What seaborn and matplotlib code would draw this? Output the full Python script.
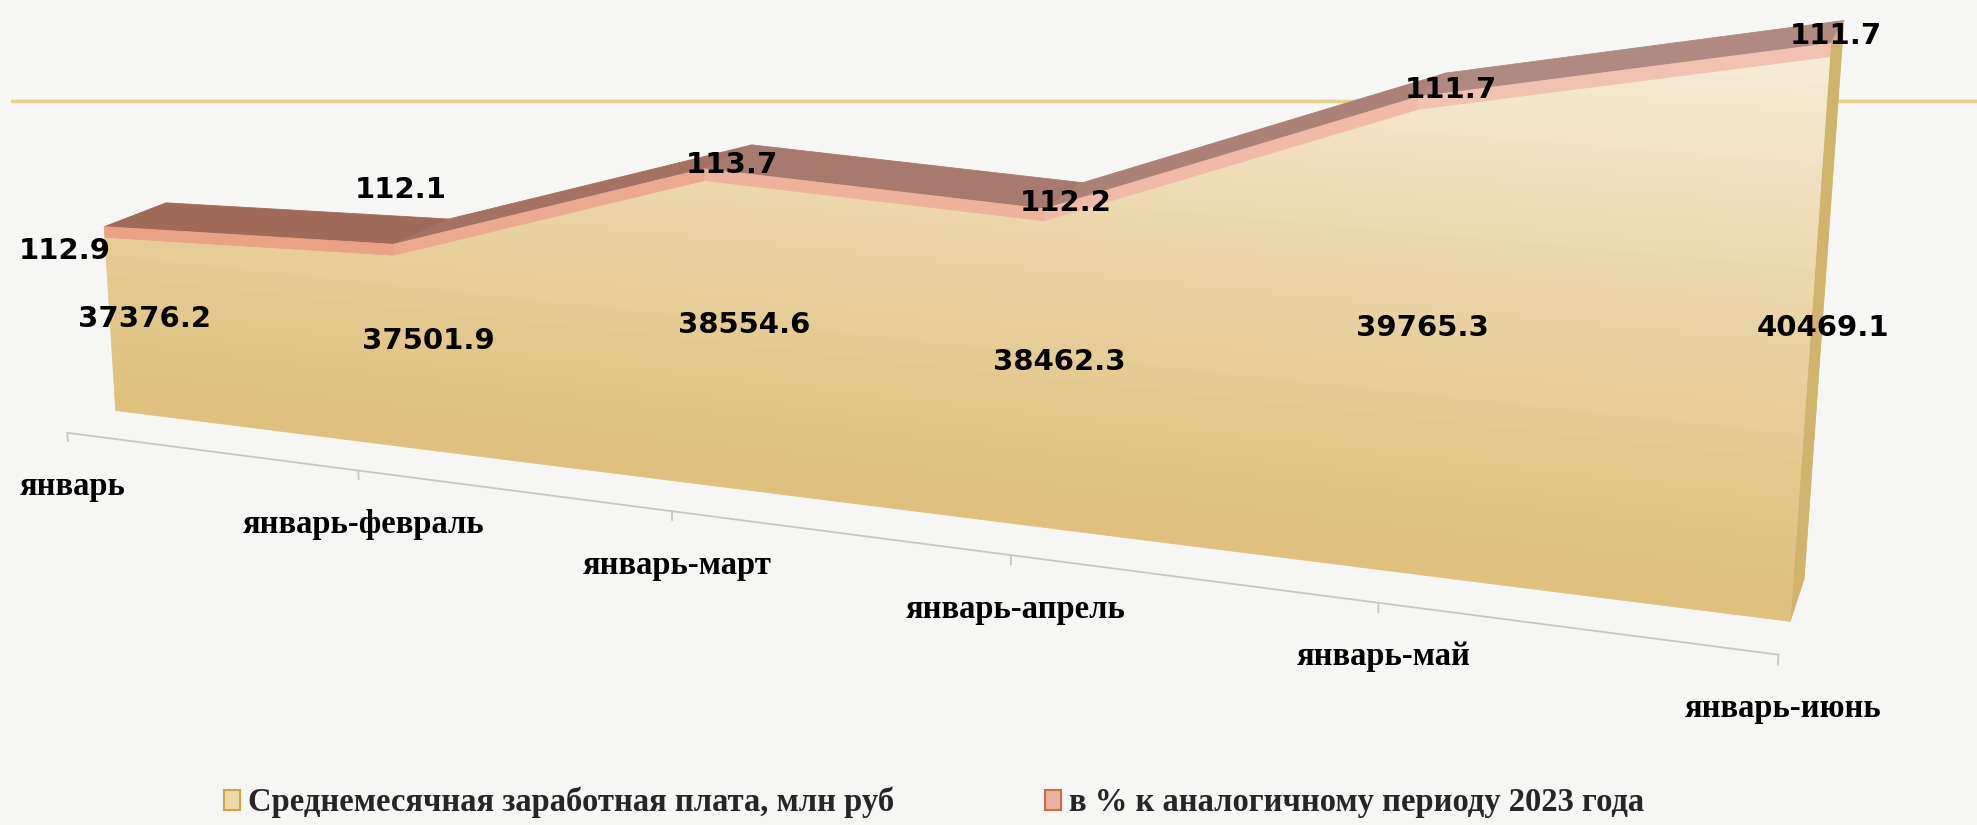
import numpy as np
import matplotlib
matplotlib.use("Agg")
import matplotlib.pyplot as plt
import seaborn as sns
from matplotlib.colors import to_rgb
from matplotlib.lines import Line2D
from matplotlib.patches import Patch
from mpl_toolkits.mplot3d.art3d import Poly3DCollection

periods = ["январь", "январь-февраль", "январь-март",
           "январь-апрель", "январь-май", "январь-июнь"]
salary = [37376.2, 37501.9, 38554.6, 38462.3, 39765.3, 40469.1]
pct = [112.9, 112.1, 113.7, 112.2, 111.7, 111.7]
salary_name = "Среднемесячная заработная плата, млн руб"
pct_name = "в % к аналогичному периоду 2023 года"

sns.set_theme(style="white")
plt.rcParams["font.family"] = ["DejaVu Sans"]

bg = "#f6f6f5"
dark, light = np.array(to_rgb("#dfc07c")), np.array(to_rgb("#f7ecd8"))
pink_l, pink_r = np.array(to_rgb("#e9a284")), np.array(to_rgb("#f2c2b1"))
brown_l, brown_r = np.array(to_rgb("#a06a58")), np.array(to_rgb("#b08a81"))
cap = "#d0b36c"
serif = {"family": "Liberation Serif", "weight": "bold", "size": 23.5}

zmin = 35500       # floor of the value axis
depth = 1.0        # depth of the area ribbon
ya = -0.75         # category axis sits in front of the ribbon
pct_off = [(-70, 37), (-20, -41), (4, 9), (2, 8), (19, 6), (-1, 5)]   # px
sal_off = [(4, 9), (3, 4), (14, 6), (-2, 3), (0, 0), (7, 0)]
cat_off = (5, 54)

x = np.arange(len(periods))
salary = np.array(salary)
total = salary + np.array(pct)

fig = plt.figure(figsize=(19.77, 8.25), dpi=100, facecolor=bg)
side = 825 / 1977
ax = fig.add_axes([490 / 1977, 176 / 825, side, 1.0], projection="3d", computed_zorder=False)
ax.set_facecolor("none")
ax.set_proj_type("persp", focal_length=0.72)
ax.view_init(elev=14, azim=-69)
ax.set_axis_off()


def add_poly(verts, color):
    pc = Poly3DCollection(verts, facecolor=color, edgecolor=color, lw=0.6)
    pc.set_clip_on(False)
    ax.add_collection3d(pc, autolim=False)


# top surface of the stacked area
for i in range(len(x) - 1):
    c = brown_l + (brown_r - brown_l) * i / (len(x) - 2)
    add_poly([[(x[i], 0, total[i]), (x[i + 1], 0, total[i + 1]),
               (x[i + 1], depth, total[i + 1]), (x[i], depth, total[i])]], c)

# right end cap
add_poly([[(x[-1], 0, zmin), (x[-1], 0, total[-1]), (x[-1], depth, total[-1]), (x[-1], depth, zmin)]], cap)

# front face with a vertical gradient
xs = np.linspace(x[0], x[-1], 401)
ys = np.interp(xs, x, salary)
levels = np.linspace(zmin, salary.max(), 45)
for a, b in zip(levels[:-1], levels[1:]):
    idx = np.where(ys > a)[0]
    f = (a - zmin) / (salary.max() - zmin)
    c = dark + (light - dark) * f ** 1.2
    for run in np.split(idx, np.where(np.diff(idx) != 1)[0] + 1):
        if len(run) < 2:
            continue
        xr, tr = xs[run], np.minimum(ys[run], b)
        poly = [(xx, 0, tt) for xx, tt in zip(xr, tr)] + [(xx, 0, a) for xx in xr[::-1]]
        add_poly([poly], c)

# front of the percentage layer
for i in range(len(x) - 1):
    c = pink_l + (pink_r - pink_l) * i / (len(x) - 2)
    add_poly([[(x[i], 0, salary[i]), (x[i + 1], 0, salary[i + 1]),
               (x[i + 1], 0, total[i + 1]), (x[i], 0, total[i])]], c)

# category axis line and ticks
ax.plot([x[0], x[-1]], [ya, ya], [zmin, zmin], color="#c9c5c5", lw=1.3, clip_on=False)
for i in x:
    ax.plot([i, i], [ya, ya], [zmin, zmin - 90], color="#c9c5c5", lw=1.3, clip_on=False)

ax.set_xlim(0, 5)
ax.set_ylim(0, 2 * depth)
ax.set_zlim(zmin, 40500)
ax.set_box_aspect((3.95, 0.52, 1.155), zoom=2.177)

fig.canvas.draw()


def proj(px, py, pz):
    v = ax.M @ np.array([px, py, pz, 1.0])
    return v[0] / v[3], v[1] / v[3]


def label(s, xyz, off, **kw):
    ax.annotate(s, xy=proj(*xyz), xycoords="data",
                xytext=(off[0] * 0.72, -off[1] * 0.72), textcoords="offset points",
                ha="center", va="center", annotation_clip=False, **kw)


for i, lab in zip(x, periods):
    label(lab, (i, ya, zmin), cat_off, fontfamily=serif["family"],
          fontweight="bold", fontsize=serif["size"], color="black")
    label(f"{salary[i]:.1f}", (i, depth / 2, (zmin + salary[i]) / 2), sal_off[i],
          fontsize=21, fontweight="bold", color="black")
    label(f"{pct[i]:.1f}", (i, depth / 2, total[i]), pct_off[i],
          fontsize=21, fontweight="bold", color="black")

fig.add_artist(Line2D([0.006, 1.0], [1 - 101 / 825] * 2, transform=fig.transFigure,
                      color="#e9d08e", lw=2.5, zorder=-1))

handles = [Patch(facecolor="#ecd9a8", edgecolor="#d0a54a", lw=1.5, label=salary_name),
           Patch(facecolor="#ebb2a0", edgecolor="#c8703f", lw=1.5, label=pct_name)]
fig.legend(handles=handles, loc="center", bbox_to_anchor=(0.4725, 0.027), ncol=2,
           frameon=False, columnspacing=4.6, handlelength=0.5, handleheight=0.6,
           handletextpad=0.25, prop=serif)

fig.savefig("out.png", dpi=100, facecolor=bg)
